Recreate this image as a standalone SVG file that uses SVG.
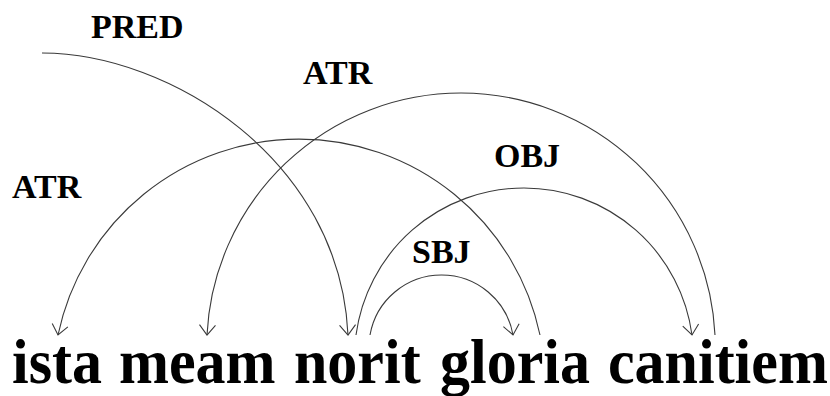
<svg xmlns="http://www.w3.org/2000/svg" width="830" height="396" viewBox="0 0 830 396">
  <style>
    .word { font-family: "Liberation Serif", "Times New Roman", serif; font-weight: bold; font-size: 60px; fill: #000; }
    .rel { font-family: "Liberation Serif", "Times New Roman", serif; font-weight: bold; font-size: 34px; fill: #000; }
    .arc { fill: none; stroke: #3a3a3a; stroke-width: 1.1; marker-end: url(#head); }
  </style>
  <defs>
    <!-- open V arrowhead at the dependent word -->
    <marker id="head" markerUnits="userSpaceOnUse" markerWidth="24" markerHeight="24" refX="0" refY="0" viewBox="-12 -12 24 24" orient="auto" overflow="visible">
      <path d="M -10,-8 L 0,0 L -10,8" fill="none" stroke="#3a3a3a" stroke-width="1.1"/>
    </marker>
  </defs>

  <rect width="830" height="396" fill="#fff"/>

  <!-- dependency arcs with their relation labels -->
  <g id="connectors">
    <g id="edge-pred">
      <path class="arc" d="M 42,53 C 170,53 340,160 348,335"/>
      <text class="rel" x="91" y="38">PRED</text>
    </g>
    <g id="edge-atr-ista">
      <path class="arc" d="M 540,335 A 246.2,246.2 0 0 0 58,335"/>
      <text class="rel" x="12" y="198">ATR</text>
    </g>
    <g id="edge-atr-meam">
      <path class="arc" d="M 715,335 A 254.3,254.3 0 0 0 207,335"/>
      <text class="rel" x="303" y="83.5">ATR</text>
    </g>
    <g id="edge-obj">
      <path class="arc" d="M 356,335 A 169.5,169.5 0 0 1 692,335"/>
      <text class="rel" x="494" y="167">OBJ</text>
    </g>
    <g id="edge-sbj">
      <path class="arc" d="M 370,335 A 72.6,72.6 0 0 1 513,335"/>
      <text class="rel" x="412" y="263">SBJ</text>
    </g>
  </g>

  <!-- sentence tokens, slightly stretched vertically about the baseline -->
  <g transform="translate(0,383) scale(1,1.05)">
    <g id="node-ista"><text class="word" x="12" y="0">ista</text></g>
    <g id="node-meam"><text class="word" x="119" y="0">meam</text></g>
    <g id="node-norit"><text class="word" x="294" y="0">norit</text></g>
    <g id="node-gloria"><text class="word" x="440" y="0">gloria</text></g>
    <g id="node-canitiem"><text class="word" x="608" y="0">canitiem</text></g>
  </g>
</svg>
